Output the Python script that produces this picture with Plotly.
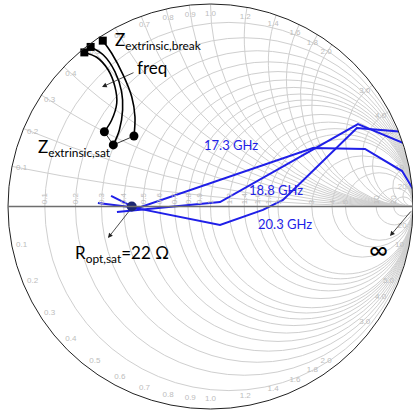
import numpy as np
import plotly.graph_objects as go

# ---- data read from the picture (reflection coefficient, real / imag) ----
# load-pull trajectories (blue)
g173_re = [-0.556, -0.358, 0.506, 0.763, 0.946, 1.000]
g173_im = [0.017, -0.007, 0.289, 0.284, 0.175, 0.086]
g188_re = [-0.462, 0.047, 0.728, 1.000]
g188_im = [-0.027, 0.022, 0.407, 0.294]
g203_re = [-0.491, -0.373, 0.047, 0.259, 0.358, 0.723, 0.960, 1.000]
g203_im = [0.052, -0.007, -0.091, -0.017, 0.032, 0.388, 0.368, 0.269]

# extrinsic impedance curves (black), from "break" (square) to "sat" (dot)
c1_re = [-0.623, -0.562, -0.505, -0.472, -0.463, -0.488, -0.524]
c1_im = [0.761, 0.737, 0.674, 0.592, 0.510, 0.427, 0.369]
c2_re = [-0.592, -0.529, -0.472, -0.439, -0.434, -0.450, -0.480]
c2_im = [0.788, 0.748, 0.666, 0.567, 0.477, 0.378, 0.304]
c3_re = [-0.532, -0.488, -0.431, -0.389, -0.373, -0.378]
c3_im = [0.819, 0.757, 0.649, 0.542, 0.443, 0.348]

# optimum load (normalised impedance, 22 ohm / 50 ohm)
ropt_real = [0.44]
ropt_imag = [0.0]

grid_vals = [0.1, 0.2, 0.3, 0.4, 0.5, 0.6, 0.7, 0.8, 0.9, 1.0,
             1.2, 1.4, 1.6, 1.8, 2.0, 3.0, 4.0, 5.0, 10, 20]
grid_text = ["0.1", "0.2", "0.3", "0.4", "0.5", "0.6", "0.7", "0.8", "0.9", "1.0",
             "1.2", "1.4", "1.6", "1.8", "2.0", "3.0", "4.0", "5.0", "10", "20"]


def to_z(re, im):
    g = np.array(re) + 1j * np.array(im)
    z = (1 + g) / (1 - g)
    return z.real, z.imag


BLUE = "#1f1fe8"
W, H = 413, 415
ML, MR, MT, MB = 8, 0, 4, 6
PW, PH = W - ML - MR, H - MT - MB


def px(x):
    return (x - ML) / PW


def py(y):
    return 1 - (y - MT) / PH


fig = go.Figure()

# imaginary-axis labels just inside the rim
lab_re, lab_im, lab_tx = [], [], []
for v, t in zip(grid_vals, grid_text):
    for s in (1, -1):
        g = (1j * s * v - 1) / (1j * s * v + 1) * 0.952
        z = (1 + g) / (1 - g)
        lab_re.append(z.real)
        lab_im.append(z.imag)
        lab_tx.append(t)
fig.add_trace(go.Scattersmith(real=lab_re, imag=lab_im, mode="text", text=lab_tx,
                              textfont=dict(size=8, color="#bdbdbd", family="Liberation Sans"),
                              hoverinfo="skip"))

for re, im in ((g173_re, g173_im), (g188_re, g188_im), (g203_re, g203_im)):
    zr, zi = to_z(re, im)
    fig.add_trace(go.Scattersmith(real=zr, imag=zi, mode="lines",
                                  line=dict(color=BLUE, width=2)))

ends_r, ends_i = [], []
for re, im in ((c1_re, c1_im), (c2_re, c2_im), (c3_re, c3_im)):
    zr, zi = to_z(re, im)
    fig.add_trace(go.Scattersmith(real=zr, imag=zi, mode="lines",
                                  line=dict(color="black", width=1.6, shape="spline")))
    fig.add_trace(go.Scattersmith(real=[zr[0]], imag=[zi[0]], mode="markers",
                                  marker=dict(symbol="square", size=8, color="black")))
    ends_r.append(zr[-1])
    ends_i.append(zi[-1])

fig.add_trace(go.Scattersmith(real=ends_r, imag=ends_i, mode="lines+markers",
                              line=dict(color="black", width=0.8),
                              marker=dict(symbol="circle", size=9, color="black")))

fig.add_trace(go.Scattersmith(real=ropt_real, imag=ropt_imag, mode="markers",
                              marker=dict(size=10, color="#1d2873")))

fig.update_layout(
    width=W, height=H,
    margin=dict(l=ML, r=MR, t=MT, b=MB, pad=0),
    paper_bgcolor="white",
    showlegend=False,
    hovermode=False,
    font=dict(family="Lato"),
    smith=dict(
        bgcolor="white",
        domain=dict(x=[0, 1], y=[0, 1]),
        realaxis=dict(tickvals=grid_vals, gridcolor="#cfcfcf", gridwidth=1,
                      showline=True, linecolor="#6e6e6e", linewidth=1.5,
                      tickfont=dict(size=8, color="#bdbdbd", family="Liberation Sans"),
                      side="top", tickangle=-90, ticks=""),
        imaginaryaxis=dict(tickvals=grid_vals, gridcolor="#cfcfcf", gridwidth=1,
                           showline=True, linecolor="#222222", linewidth=1,
                           showticklabels=False, ticks=""),
    ),
)

ann = []
ann.append(dict(x=px(113), y=py(41), xanchor="left", yanchor="middle",
                text="Z<sub>extrinsic,break</sub>", font=dict(size=17, color="black")))
ann.append(dict(x=px(152), y=py(68), xanchor="center", yanchor="middle",
                text="freq", font=dict(size=17, color="black")))
ann.append(dict(x=px(36), y=py(148), xanchor="left", yanchor="middle",
                text="Z<sub>extrinsic,sat</sub>", font=dict(size=17, color="black")))
ann.append(dict(x=px(73), y=py(254), xanchor="left", yanchor="middle",
                text="R<sub>opt,sat</sub>=22 Ω", font=dict(size=17, color="black")))
ann.append(dict(x=px(378), y=py(249), xanchor="center", yanchor="middle",
                text="∞", font=dict(size=26, color="black")))
ann.append(dict(x=px(231), y=py(145), xanchor="center", yanchor="middle",
                text="17.3 GHz", font=dict(size=13, color=BLUE)))
ann.append(dict(x=px(276), y=py(190), xanchor="center", yanchor="middle",
                text="18.8 GHz", font=dict(size=13, color=BLUE)))
ann.append(dict(x=px(285), y=py(224), xanchor="center", yanchor="middle",
                text="20.3 GHz", font=dict(size=13, color=BLUE)))
for (x0, y0, x1, y1) in ((135, 72, 102, 87), (130, 210, 108, 238), (412, 210, 390, 236)):
    ann.append(dict(x=px(x1), y=py(y1), ax=x0 - x1, ay=y0 - y1, text="",
                    showarrow=True, arrowhead=2, arrowsize=1.2, arrowwidth=0.8,
                    arrowcolor="#222222"))
for a in ann:
    a.setdefault("showarrow", False)
    a["xref"] = "paper"
    a["yref"] = "paper"
fig.update_layout(annotations=ann)

# the page's default 8px body margin would shift the figure; remove it
fig.write_html("out.html", config={"displayModeBar": False},
               post_script="document.body.style.margin='0px';")
